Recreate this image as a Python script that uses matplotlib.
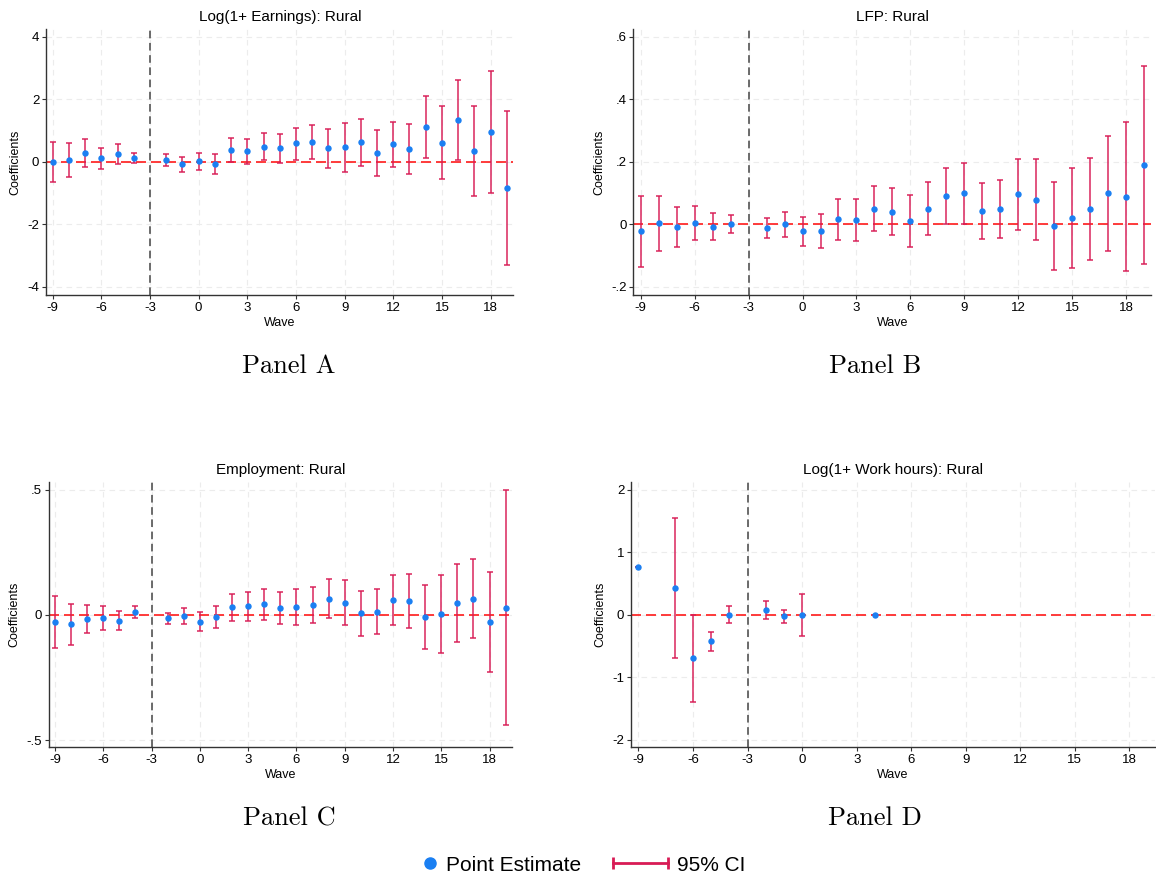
import numpy as np
import matplotlib
matplotlib.use("Agg")
import matplotlib.pyplot as plt
from matplotlib.lines import Line2D
from matplotlib.ticker import FuncFormatter

plt.rcParams['font.family'] = ['Liberation Sans', 'DejaVu Sans']
plt.rcParams['axes.unicode_minus'] = False

nan = np.nan

# event-time waves (wave -3 is the omitted reference period)
waves = [-9, -8, -7, -6, -5, -4, -2, -1, 0, 1, 2, 3, 4, 5, 6, 7, 8, 9,
         10, 11, 12, 13, 14, 15, 16, 17, 18, 19]

# Log(1+ Earnings)
earn_b = [0.00, 0.06, 0.29, 0.12, 0.25, 0.14, 0.07, -0.08, 0.02, -0.06, 0.38, 0.34, 0.49, 0.44,
          0.59, 0.64, 0.44, 0.47, 0.63, 0.29, 0.56, 0.41, 1.12, 0.62, 1.35, 0.36, 0.97, -0.83]
earn_lo = [-0.65, -0.48, -0.15, -0.22, -0.08, -0.02, -0.12, -0.32, -0.25, -0.38, -0.01, -0.06, 0.05, -0.02,
           0.07, 0.10, -0.18, -0.33, -0.12, -0.45, -0.15, -0.40, 0.12, -0.55, 0.07, -1.08, -1.00, -3.30]
earn_hi = [0.65, 0.60, 0.72, 0.46, 0.57, 0.30, 0.25, 0.15, 0.29, 0.26, 0.77, 0.73, 0.93, 0.89,
           1.10, 1.17, 1.06, 1.26, 1.38, 1.03, 1.27, 1.20, 2.12, 1.78, 2.62, 1.80, 2.92, 1.64]

# LFP
lfp_b = [-0.022, 0.005, -0.008, 0.006, -0.007, 0.002, -0.011, 0.000, -0.022, -0.020, 0.017, 0.015, 0.050, 0.041,
         0.010, 0.051, 0.090, 0.100, 0.043, 0.050, 0.097, 0.079, -0.004, 0.021, 0.049, 0.100, 0.089, 0.191]
lfp_lo = [-0.137, -0.085, -0.073, -0.049, -0.050, -0.027, -0.042, -0.039, -0.069, -0.075, -0.049, -0.052, -0.022, -0.035,
          -0.073, -0.034, 0.000, 0.003, -0.048, -0.042, -0.017, -0.050, -0.145, -0.138, -0.113, -0.084, -0.150, -0.126]
lfp_hi = [0.091, 0.092, 0.057, 0.060, 0.036, 0.031, 0.020, 0.039, 0.023, 0.034, 0.082, 0.082, 0.122, 0.117,
          0.093, 0.136, 0.180, 0.196, 0.134, 0.142, 0.210, 0.208, 0.136, 0.181, 0.211, 0.283, 0.328, 0.508]

# Employment
emp_b = [-0.028, -0.036, -0.016, -0.012, -0.024, 0.012, -0.013, -0.004, -0.027, -0.008, 0.031, 0.036, 0.044, 0.029,
         0.033, 0.041, 0.065, 0.049, 0.007, 0.013, 0.058, 0.056, -0.007, 0.004, 0.048, 0.065, -0.028, 0.029]
emp_lo = [-0.133, -0.118, -0.073, -0.061, -0.061, -0.013, -0.037, -0.036, -0.066, -0.053, -0.025, -0.024, -0.019, -0.035,
          -0.039, -0.031, -0.013, -0.039, -0.084, -0.077, -0.041, -0.054, -0.134, -0.153, -0.109, -0.092, -0.228, -0.440]
emp_hi = [0.076, 0.044, 0.041, 0.035, 0.015, 0.037, 0.009, 0.028, 0.011, 0.035, 0.085, 0.092, 0.104, 0.093,
          0.104, 0.113, 0.143, 0.138, 0.096, 0.105, 0.159, 0.165, 0.121, 0.161, 0.203, 0.222, 0.173, 0.498]

# Log(1+ Work hours) -- only a few waves estimated
hrs_b = [0.76, nan, 0.43, -0.70, -0.425, 0.00, 0.08, -0.027, 0.00, nan, nan, nan, 0.00, nan,
         nan, nan, nan, nan, nan, nan, nan, nan, nan, nan, nan, nan, nan, nan]
hrs_lo = [0.76, nan, -0.69, -1.40, -0.574, -0.133, -0.064, -0.127, -0.335, nan, nan, nan, 0.00, nan,
          nan, nan, nan, nan, nan, nan, nan, nan, nan, nan, nan, nan, nan, nan]
hrs_hi = [0.76, nan, 1.55, 0.00, -0.276, 0.133, 0.218, 0.069, 0.335, nan, nan, nan, 0.00, nan,
          nan, nan, nan, nan, nan, nan, nan, nan, nan, nan, nan, nan, nan, nan]

titles = ["Log(1+ Earnings): Rural", "LFP: Rural", "Employment: Rural", "Log(1+ Work hours): Rural"]
panel_labels = ["Panel A", "Panel B", "Panel C", "Panel D"]
yticks = [[-4, -2, 0, 2, 4], [-0.2, 0, 0.2, 0.4, 0.6], [-0.5, 0, 0.5], [-2, -1, 0, 1, 2]]
ylims = [(-4.25, 4.25), (-0.225, 0.625), (-0.527, 0.529), (-2.12, 2.12)]
xticks = [-9, -6, -3, 0, 3, 6, 9, 12, 15, 18]

series = [(earn_b, earn_lo, earn_hi), (lfp_b, lfp_lo, lfp_hi),
          (emp_b, emp_lo, emp_hi), (hrs_b, hrs_lo, hrs_hi)]

# axes boxes [left, bottom, width, height]
boxes = [[0.040, 0.665, 0.404, 0.302],
         [0.548, 0.665, 0.448, 0.302],
         [0.042, 0.151, 0.401, 0.301],
         [0.546, 0.151, 0.453, 0.301]]
label_pos = [(0.250, 0.584), (0.757, 0.584), (0.250, 0.070), (0.757, 0.070)]

ci_col = '#d81b55'
pt_col = '#1a7ff2'


def stata_fmt(v, pos):
    if abs(v) < 1e-9:
        return "0"
    s = ("%g" % v)
    return s.replace("0.", ".")


fig = plt.figure(figsize=(11.56, 8.8), dpi=100)

x = np.array(waves, dtype=float)
for i in range(4):
    ax = fig.add_axes(boxes[i])
    b, lo, hi = [np.array(a, dtype=float) for a in series[i]]
    ax.grid(True, color='#ececec', linestyle=(0, (5, 4)), linewidth=0.8)
    ax.set_axisbelow(True)
    ax.axhline(0, color='#ff1a1a', linestyle=(0, (6, 3)), linewidth=1.2, zorder=1)
    ax.axvline(-3, color='#444444', linestyle=(0, (5, 3)), linewidth=1.1, zorder=1)
    ax.errorbar(x, b, yerr=[b - lo, hi - b], fmt='none', ecolor=ci_col, alpha=0.75,
                elinewidth=1.4, capsize=2.5, capthick=1.4, zorder=2)
    ax.plot(x, b, 'o', color=pt_col, markersize=3.6, zorder=3, linestyle='none')
    ax.set_xlim(-9.4, 19.4)
    ax.set_ylim(*ylims[i])
    ax.set_xticks(xticks)
    ax.set_yticks(yticks[i])
    ax.yaxis.set_major_formatter(FuncFormatter(stata_fmt))
    for s in ['top', 'right']:
        ax.spines[s].set_visible(False)
    for s in ['left', 'bottom']:
        ax.spines[s].set_color('#333333')
        ax.spines[s].set_linewidth(1.0)
    ax.tick_params(labelsize=9.5, length=3, color='#333333', pad=2)
    ax.set_title(titles[i], fontsize=11, pad=6)
    ax.set_xlabel("Wave", fontsize=9, labelpad=2)
    ax.set_ylabel("Coefficients", fontsize=9, labelpad=4)
    fig.text(label_pos[i][0], label_pos[i][1], panel_labels[i], fontsize=19,
             family='cmr10', ha='center', va='center')

# legend: two entries with different handle lengths
h_pt = Line2D([], [], color=pt_col, marker='o', linestyle='none', markersize=8)
h_ci = Line2D([], [], color=ci_col, marker='|', markersize=9, markeredgewidth=2, linewidth=2)
fig.legend([h_pt], ["Point Estimate"], numpoints=1, loc='center right',
           bbox_to_anchor=(0.503, 0.017), frameon=False, fontsize=15,
           handlelength=0.8, handletextpad=0.4, borderpad=0, borderaxespad=0)
fig.legend([h_ci], ["95% CI"], numpoints=2, loc='center left',
           bbox_to_anchor=(0.5245, 0.017), frameon=False, fontsize=15,
           handlelength=3.25, handletextpad=0.15, borderpad=0, borderaxespad=0)

fig.savefig("out.png", dpi=100)
